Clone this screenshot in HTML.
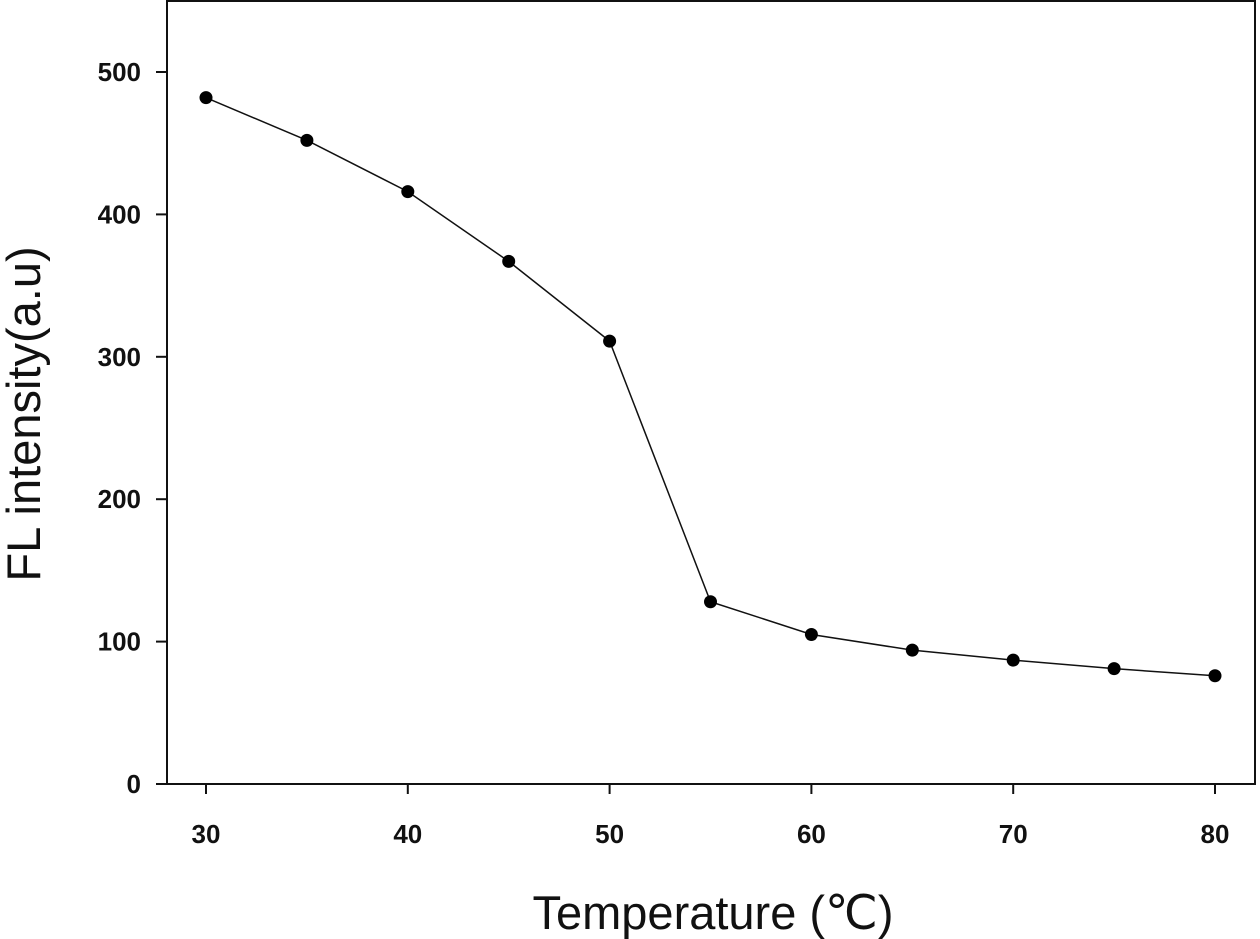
<!DOCTYPE html>
<html><head><meta charset="utf-8"><style>
html,body{margin:0;padding:0;background:#fff;}
svg{display:block;}
.tick{font-family:"Liberation Sans Narrow","Liberation Sans",sans-serif;font-weight:bold;font-size:26px;fill:#111;}
.title{font-family:"Liberation Sans",sans-serif;font-size:47px;fill:#111;}
</style></head><body>
<svg id="chart" width="1260" height="939" viewBox="0 0 1260 939">
<g id="axes"></g><g id="series"></g>
<text class="title" x="713" y="929" text-anchor="middle">Temperature (℃)</text>
<text class="title" transform="translate(40,414) rotate(-90)" text-anchor="middle">FL intensity(a.u)</text>
</svg>
<script>
const temps=[30,35,40,45,50,55,60,65,70,75,80];
const intensity=[482,452,416,367,311,128,105,94,87,81,76];
const xTicks=[30,40,50,60,70,80];
const yTicks=[0,100,200,300,400,500];
const NS="http://www.w3.org/2000/svg";
const L=167,R=1255,T=1,B=784;
function xs(v){return 206+(v-30)*(1215-206)/50;}
function ys(v){return 784-v*(784-72)/500;}
function mk(tag,attrs,parent){const e=document.createElementNS(NS,tag);for(const k in attrs)e.setAttribute(k,attrs[k]);parent.appendChild(e);return e;}
const ax=document.getElementById('axes');
const frame=mk('rect',{x:L,y:T,width:R-L,height:B-T,fill:'none',stroke:'#111','stroke-width':2},ax);


const xl=mk('line',{x1:156,y1:B,x2:R,y2:B,stroke:'#111','stroke-width':2},ax);


xTicks.forEach(v=>{
 const t=mk('line',{x1:xs(v),y1:B,x2:xs(v),y2:B+10,stroke:'#111','stroke-width':2},ax);
 
 
 const l=mk('text',{x:xs(v),y:843,'text-anchor':'middle',class:'tick'},ax);
 l.textContent=v;
 
 
});
yTicks.forEach(v=>{
 const t=mk('line',{x1:156,y1:ys(v),x2:L,y2:ys(v),stroke:'#111','stroke-width':2},ax);
 
 
 const l=mk('text',{x:141,y:ys(v)+9,'text-anchor':'end',class:'tick'},ax);
 l.textContent=v;
 
 
});
const sg=document.getElementById('series');
const pts=temps.map((t,i)=>xs(t)+','+ys(intensity[i])).join(' ');
const pl=mk('polyline',{points:pts,fill:'none',stroke:'#111','stroke-width':1.5},sg);


temps.forEach((t,i)=>{
 const c=mk('circle',{cx:xs(t),cy:ys(intensity[i]),r:6.5,fill:'#000'},sg);
 
 
});
</script>
</body></html>
